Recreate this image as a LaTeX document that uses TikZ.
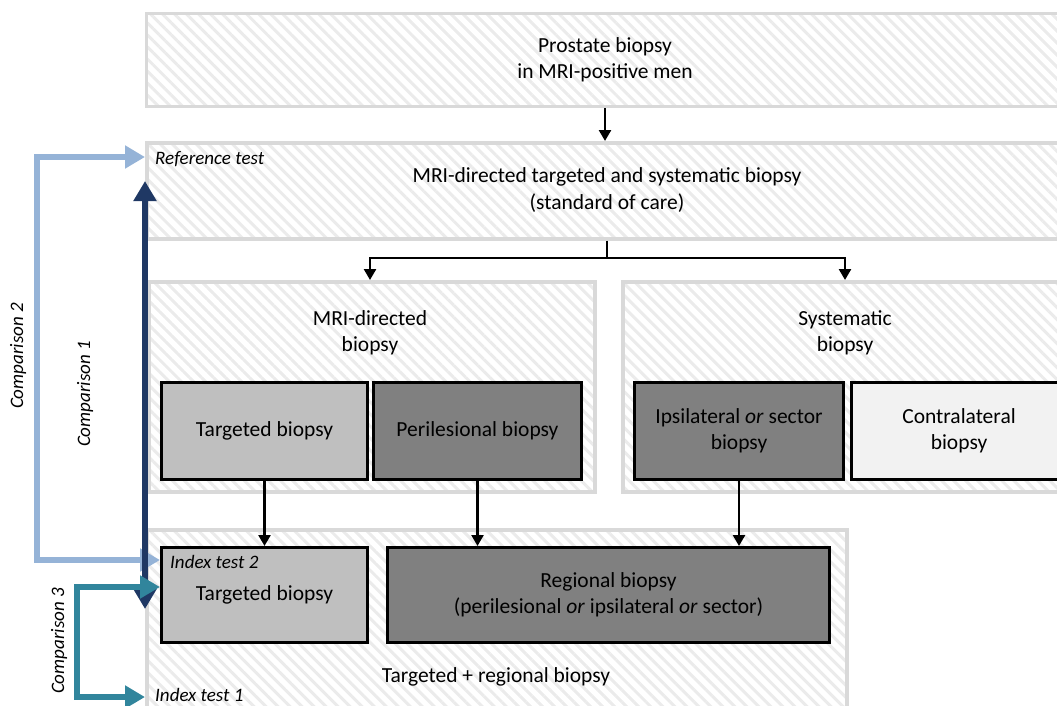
\documentclass[tikz,border=0pt]{standalone}
\usepackage{fontspec}
\setmainfont{Carlito}
\usetikzlibrary{arrows.meta,positioning,patterns.meta}
\definecolor{boxgray}{HTML}{D9D9D9}
\definecolor{hatch}{HTML}{EBEBEB}
\definecolor{lightfill}{HTML}{BFBFBF}
\definecolor{darkfill}{HTML}{808080}
\definecolor{palefill}{HTML}{F2F2F2}
\definecolor{cblue}{HTML}{95B3D7}
\definecolor{cnavy}{HTML}{1F3864}
\definecolor{cteal}{HTML}{31859C}

\begin{document}
\begin{tikzpicture}[x=1pt,y=-1pt,>={Triangle[width=12pt,length=11pt]},
    font=\fontsize{21.5}{26.5}\selectfont,
    group node/.style={draw=boxgray,line width=3.5pt,anchor=north west,inner sep=0pt,
        pattern={Lines[angle=-45,distance=8.5pt,line width=3pt]},pattern color=hatch},
    test node/.style={draw=black,line width=3pt,anchor=north west,inner sep=0pt,align=center},
    title node/.style={align=center,inner sep=0pt},
    tag node/.style={font=\fontsize{19}{22}\selectfont\itshape,anchor=west,inner sep=0pt},
    flow/.style={->,line width=2.5pt},
    comp/.style={<->,line width=6pt,>={Triangle[width=22pt,length=20pt]}}]

\useasboundingbox (0,0) rectangle (1057,705);

% grey hatched groups
\node[group node,minimum width=920pt,minimum height=93pt]  (top)  at (145,12)  {};
\node[group node,minimum width=920pt,minimum height=96pt]  (ref)  at (145,141) {};
\node[group node,minimum width=446pt,minimum height=210pt] (mri)  at (147,280) {};
\node[group node,minimum width=445pt,minimum height=210pt] (sys)  at (621,280) {};
\node[group node,minimum width=700pt,minimum height=190pt] (comb) at (145,528) {};

\node[title node] (top text)  at (605,60)  {Prostate biopsy\\in MRI-positive men};
\node[title node] (ref text)  at (607,190) {MRI-directed targeted and systematic biopsy\\(standard of care)};
\node[title node] (mri text)  at (370,333) {MRI-directed\\biopsy};
\node[title node] (sys text)  at (845,333) {Systematic\\biopsy};
\node[title node] (comb text) at (496,677) {Targeted + regional biopsy};

\node[tag node] (ref tag)    at (155,159) {Reference test};
\node[tag node] (index tag1) at (155,695) {Index test 1};

% biopsy boxes
\node[test node,fill=lightfill,minimum width=206pt,minimum height=97pt] (target)  at (160,381) {Targeted biopsy};
\node[test node,fill=darkfill,minimum width=208pt,minimum height=97pt]  (peri)    at (372,381) {Perilesional biopsy};
\node[test node,fill=darkfill,minimum width=209pt,minimum height=97pt]  (ipsi)    at (633,381) {Ipsilateral \textit{or} sector\\biopsy};
\node[test node,fill=palefill,minimum width=215pt,minimum height=97pt]  (contra)  at (850,381) {Contralateral\\biopsy};
\node[test node,fill=lightfill,minimum width=206pt,minimum height=95pt] (target2) at (160,546) {Targeted biopsy};
\node[test node,fill=darkfill,minimum width=442pt,minimum height=95pt]  (region)  at (386,546) {Regional biopsy\\(perilesional \textit{or} ipsilateral \textit{or} sector)};

\node[tag node] (index tag2) at (170,562) {Index test 2};

% flow arrows
\coordinate (split) at (607,258);
\draw[flow] (top.south -| top text) -- (ref.north -| top text);
\draw[line width=2.5pt] (ref.south -| split) -- (split);
\draw[flow] (split) -| (mri.north -| mri text);
\draw[flow] (split) -| (sys.north -| sys text);
\draw[flow] (target) -- (target2);
\draw[flow] (peri.south) -- (region.north -| peri.south);
\draw[flow] (ipsi.south) -- (region.north -| ipsi.south);

% comparisons
\coordinate (c2 top) at (37,157);
\coordinate (c2 bot) at (37,560);
\coordinate (c1 top) at (145,181);
\coordinate (c1 bot) at (145,609);
\coordinate (c3 top) at (77,587);
\coordinate (c3 bot) at (77,697);
\draw[comp,cblue] (ref.west |- c2 top) -- (c2 top) -- (c2 bot) -- (target2.west |- c2 bot);
\draw[comp,cnavy] (c1 top) -- (c1 bot);
\draw[comp,cteal] (target2.west |- c3 top) -- (c3 top) -- (c3 bot) -- (comb.west |- c3 bot);

\node[tag node,rotate=90,anchor=center] (comp2) at (18,356) {Comparison 2};
\node[tag node,rotate=90,anchor=center] (comp1) at (85,394) {Comparison 1};
\node[tag node,rotate=90,anchor=center] (comp3) at (59,641) {Comparison 3};

\end{tikzpicture}
\end{document}
